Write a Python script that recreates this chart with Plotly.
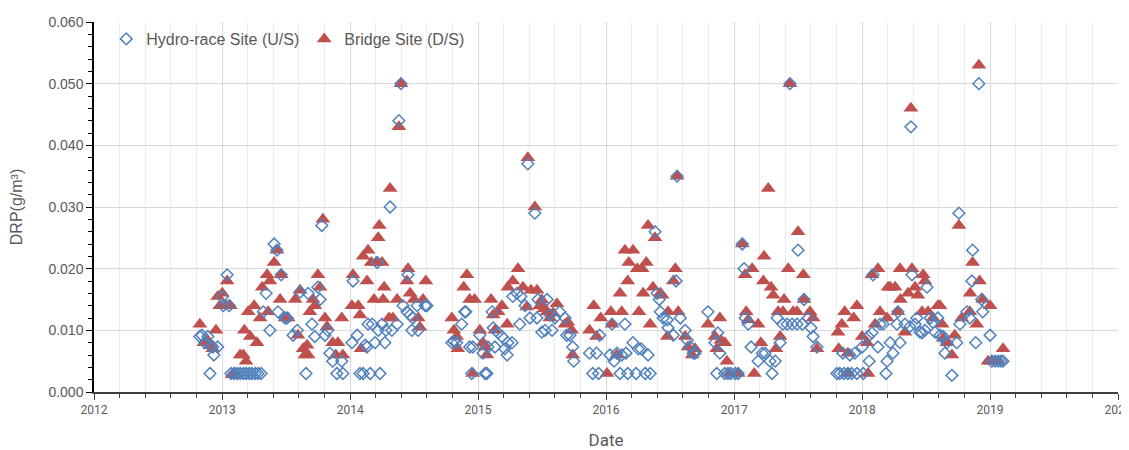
import plotly.graph_objects as go

# Hydro-race Site (U/S) - upstream
hydro_dates = [
    "2012-10-29", "2012-11-04", "2012-11-12", "2012-11-21", "2012-11-27", "2012-11-30", "2012-12-05", "2012-12-08", "2012-12-19",
    "2013-01-01", "2013-01-04", "2013-01-15", "2013-01-21", "2013-01-26", "2013-02-04", "2013-02-13", "2013-02-21", "2013-03-02",
    "2013-03-10", "2013-03-19", "2013-03-27", "2013-04-05", "2013-04-13", "2013-04-22", "2013-04-28", "2013-05-06", "2013-05-17",
    "2013-05-29", "2013-06-06", "2013-06-09", "2013-06-18", "2013-06-29", "2013-07-05", "2013-07-22", "2013-08-03", "2013-08-11",
    "2013-08-28", "2013-09-03", "2013-09-14", "2013-09-22", "2013-10-01", "2013-10-07", "2013-10-12", "2013-10-21", "2013-10-29",
    "2013-11-04", "2013-11-12", "2013-11-24", "2013-12-08", "2013-12-11",
    "2014-01-06", "2014-01-09", "2014-01-21", "2014-01-29", "2014-02-07", "2014-02-13", "2014-02-18", "2014-02-21", "2014-02-27",
    "2014-03-05", "2014-03-13", "2014-03-19", "2014-03-22", "2014-03-27", "2014-04-02", "2014-04-10", "2014-04-13", "2014-04-25",
    "2014-04-30", "2014-05-15", "2014-05-20", "2014-05-26", "2014-06-01", "2014-06-12", "2014-06-15", "2014-06-21", "2014-06-26",
    "2014-06-29", "2014-07-11", "2014-07-14", "2014-08-03", "2014-08-08",
    "2014-10-18", "2014-10-24", "2014-11-01", "2014-11-15", "2014-11-24", "2014-11-27", "2014-12-08", "2014-12-14", "2014-12-17",
    "2015-01-06", "2015-01-15", "2015-01-21", "2015-01-26", "2015-01-29", "2015-02-10", "2015-02-13", "2015-02-18", "2015-02-27",
    "2015-03-10", "2015-03-18", "2015-03-25", "2015-03-27", "2015-04-08", "2015-04-10", "2015-04-22", "2015-04-30", "2015-05-03",
    "2015-05-15", "2015-05-23", "2015-05-29", "2015-06-12", "2015-06-18", "2015-06-21", "2015-07-02", "2015-07-11", "2015-07-17",
    "2015-07-25", "2015-07-31", "2015-08-08", "2015-08-22", "2015-09-06", "2015-09-11", "2015-09-20", "2015-09-28", "2015-10-01",
    "2015-11-15", "2015-11-24", "2015-12-05", "2015-12-11", "2015-12-14",
    "2016-01-12", "2016-01-18", "2016-01-24", "2016-02-01", "2016-02-10", "2016-02-15", "2016-02-24", "2016-02-27", "2016-03-03",
    "2016-03-18", "2016-03-27", "2016-04-02", "2016-04-10", "2016-04-22", "2016-04-30", "2016-05-06", "2016-05-20", "2016-05-26",
    "2016-06-01", "2016-06-04", "2016-06-12", "2016-06-24", "2016-06-26", "2016-07-11", "2016-07-19", "2016-07-22", "2016-07-31",
    "2016-08-14", "2016-08-20", "2016-08-28", "2016-09-06", "2016-09-11", "2016-10-18", "2016-11-07", "2016-11-12", "2016-11-15",
    "2016-11-21", "2016-12-05", "2016-12-14", "2016-12-22",
    "2017-01-04", "2017-01-12", "2017-01-24", "2017-01-29", "2017-02-01", "2017-02-10", "2017-02-18", "2017-03-10", "2017-03-22",
    "2017-03-30", "2017-04-13", "2017-04-19", "2017-04-28", "2017-05-03", "2017-05-12", "2017-05-20", "2017-06-01", "2017-06-09",
    "2017-06-15", "2017-06-29", "2017-07-02", "2017-07-14", "2017-07-19", "2017-07-31", "2017-08-08", "2017-08-14", "2017-08-25",
    "2017-10-21", "2017-10-29", "2017-11-07", "2017-11-10", "2017-11-21", "2017-11-27", "2017-12-02", "2017-12-11", "2017-12-17",
    "2018-01-01", "2018-01-04", "2018-01-18", "2018-01-21", "2018-01-29", "2018-02-01", "2018-02-15", "2018-02-21", "2018-03-02",
    "2018-03-10", "2018-03-13", "2018-03-22", "2018-03-30", "2018-04-10", "2018-04-13", "2018-04-19", "2018-05-03", "2018-05-17",
    "2018-05-20", "2018-05-23", "2018-06-01", "2018-06-06", "2018-06-15", "2018-06-21", "2018-06-29", "2018-07-05", "2018-07-14",
    "2018-07-22", "2018-07-28", "2018-08-05", "2018-08-11", "2018-08-20", "2018-08-25", "2018-08-31", "2018-09-14", "2018-09-28",
    "2018-10-04", "2018-10-07", "2018-10-27", "2018-11-04", "2018-11-10", "2018-11-12", "2018-11-21", "2018-11-30", "2018-12-08",
    "2018-12-11",
    "2019-01-01", "2019-01-06", "2019-01-15", "2019-01-24", "2019-02-01", "2019-02-07",
]
hydro_drp = [
    0.009, 0.0092, 0.008, 0.009, 0.003, 0.0075, 0.0073, 0.006, 0.0073,
    0.0154, 0.014, 0.019, 0.014, 0.003, 0.003, 0.003, 0.003, 0.003,
    0.003, 0.003, 0.003, 0.003, 0.003, 0.003, 0.013, 0.016, 0.010,
    0.024, 0.023, 0.013, 0.019, 0.012, 0.012, 0.0092, 0.010, 0.0162,
    0.003, 0.016, 0.011, 0.009, 0.017, 0.015, 0.027, 0.0092, 0.010,
    0.0063, 0.005, 0.003, 0.005, 0.003,
    0.008, 0.018, 0.0092, 0.003, 0.003, 0.0076, 0.0073, 0.011, 0.003,
    0.011, 0.008, 0.021, 0.010, 0.003, 0.011, 0.008, 0.010, 0.030,
    0.010, 0.011, 0.044, 0.050, 0.014, 0.013, 0.019, 0.0125, 0.010,
    0.012, 0.014, 0.010, 0.014, 0.014,
    0.008, 0.0082, 0.008, 0.011, 0.013, 0.013, 0.0073, 0.003, 0.0073,
    0.0092, 0.0063, 0.003, 0.003, 0.0073, 0.013, 0.0104, 0.0073, 0.0096,
    0.009, 0.007, 0.006, 0.008, 0.008, 0.0155, 0.016, 0.011, 0.0155,
    0.014, 0.037, 0.012, 0.029, 0.012, 0.015, 0.0097, 0.010, 0.015,
    0.0125, 0.010, 0.012, 0.013, 0.012, 0.0092, 0.0092, 0.0073, 0.005,
    0.0063, 0.003, 0.0063, 0.003, 0.0092,
    0.006, 0.011, 0.005, 0.0063, 0.003, 0.006, 0.011, 0.0063, 0.003,
    0.008, 0.003, 0.007, 0.007, 0.003, 0.006, 0.003, 0.026, 0.016,
    0.015, 0.013, 0.012, 0.0117, 0.0104, 0.0092, 0.018, 0.035, 0.012,
    0.010, 0.0084, 0.0073, 0.0063, 0.0063, 0.013, 0.008, 0.003, 0.0096,
    0.0063, 0.003, 0.003, 0.003,
    0.003, 0.003, 0.024, 0.020, 0.012, 0.011, 0.0073, 0.005, 0.0063,
    0.0063, 0.005, 0.003, 0.005, 0.012, 0.008, 0.011, 0.011, 0.050,
    0.011, 0.011, 0.023, 0.011, 0.015, 0.012, 0.0104, 0.009, 0.0073,
    0.003, 0.003, 0.0063, 0.003, 0.003, 0.006, 0.003, 0.0063, 0.003,
    0.0073, 0.003, 0.009, 0.005, 0.0096, 0.019, 0.0073, 0.011, 0.011,
    0.003, 0.005, 0.008, 0.0063, 0.011, 0.013, 0.008, 0.011, 0.0106,
    0.043, 0.019, 0.011, 0.012, 0.0097, 0.0096, 0.010, 0.017, 0.012,
    0.0113, 0.0097, 0.012, 0.0092, 0.009, 0.0063, 0.008, 0.0027, 0.008,
    0.029, 0.011, 0.013, 0.012, 0.018, 0.023, 0.008, 0.050, 0.015,
    0.013,
    0.0092, 0.005, 0.005, 0.005, 0.005, 0.005,
]

# Bridge Site (D/S) - downstream
bridge_dates = [
    "2012-10-29", "2012-11-10", "2012-11-18", "2012-11-27", "2012-12-05", "2012-12-14", "2012-12-19", "2012-12-25",
    "2013-01-01", "2013-01-12", "2013-01-15", "2013-01-24", "2013-01-29", "2013-02-07", "2013-02-21", "2013-03-02", "2013-03-05",
    "2013-03-10", "2013-03-16", "2013-03-22", "2013-04-02", "2013-04-10", "2013-04-19", "2013-04-25", "2013-05-09", "2013-05-12",
    "2013-05-17", "2013-05-29", "2013-06-06", "2013-06-15", "2013-06-18", "2013-06-29", "2013-07-08", "2013-07-28", "2013-08-05",
    "2013-08-11", "2013-08-20", "2013-08-25", "2013-08-31", "2013-09-03", "2013-09-08", "2013-09-17", "2013-09-22", "2013-10-01",
    "2013-10-07", "2013-10-15", "2013-10-21", "2013-10-27", "2013-11-12", "2013-11-21", "2013-11-27", "2013-12-08", "2013-12-11",
    "2014-01-06", "2014-01-09", "2014-01-24", "2014-01-29", "2014-02-01", "2014-02-07", "2014-02-18", "2014-02-21", "2014-03-02",
    "2014-03-10", "2014-03-16", "2014-03-22", "2014-03-25", "2014-04-02", "2014-04-05", "2014-04-08", "2014-04-22", "2014-04-25",
    "2014-05-03", "2014-05-15", "2014-05-20", "2014-05-26", "2014-06-12", "2014-06-15", "2014-06-21", "2014-07-02", "2014-07-14",
    "2014-07-19", "2014-07-28", "2014-08-05",
    "2014-10-18", "2014-10-24", "2014-11-01", "2014-11-04", "2014-11-21", "2014-11-30", "2014-12-08", "2014-12-17", "2014-12-22",
    "2015-01-06", "2015-01-15", "2015-01-21", "2015-01-26", "2015-02-07", "2015-02-13", "2015-02-18", "2015-02-27", "2015-03-10",
    "2015-03-25", "2015-03-27", "2015-04-10", "2015-04-25", "2015-05-09", "2015-05-20", "2015-05-23", "2015-06-01", "2015-06-12",
    "2015-06-18", "2015-06-26", "2015-07-02", "2015-07-08", "2015-07-17", "2015-07-25", "2015-08-03", "2015-08-14", "2015-09-06",
    "2015-09-14", "2015-09-25", "2015-09-28", "2015-11-15", "2015-11-27", "2015-12-05", "2015-12-17",
    "2016-01-04", "2016-01-15", "2016-01-18", "2016-02-01", "2016-02-10", "2016-02-15", "2016-02-24", "2016-03-03", "2016-03-06",
    "2016-03-18", "2016-03-30", "2016-04-04", "2016-04-13", "2016-04-16", "2016-04-25", "2016-04-30", "2016-05-06", "2016-05-14",
    "2016-05-20", "2016-06-04", "2016-06-09", "2016-06-24", "2016-06-26", "2016-07-11", "2016-07-17", "2016-07-22", "2016-07-25",
    "2016-08-14", "2016-08-22", "2016-09-03", "2016-09-11", "2016-10-18", "2016-11-07", "2016-11-12", "2016-11-21", "2016-11-24",
    "2016-12-05", "2016-12-11", "2016-12-17",
    "2017-01-12", "2017-01-24", "2017-02-01", "2017-02-04", "2017-02-10", "2017-02-21", "2017-02-27", "2017-03-10", "2017-03-18",
    "2017-03-25", "2017-03-27", "2017-04-08", "2017-04-16", "2017-04-22", "2017-04-30", "2017-05-06", "2017-05-12", "2017-05-20",
    "2017-05-23", "2017-06-04", "2017-06-09", "2017-06-18", "2017-06-29", "2017-07-02", "2017-07-17", "2017-07-19", "2017-08-05",
    "2017-08-14", "2017-08-25", "2017-10-24", "2017-10-26", "2017-11-04", "2017-11-12", "2017-11-21", "2017-11-22", "2017-12-08",
    "2017-12-17",
    "2018-01-01", "2018-01-15", "2018-01-18", "2018-01-29", "2018-02-07", "2018-02-15", "2018-02-21", "2018-03-13", "2018-03-16",
    "2018-03-22", "2018-04-05", "2018-04-13", "2018-04-19", "2018-04-20", "2018-05-03", "2018-05-12", "2018-05-20", "2018-05-23",
    "2018-06-01", "2018-06-09", "2018-06-21", "2018-06-24", "2018-06-29", "2018-07-08", "2018-07-22", "2018-08-05", "2018-08-11",
    "2018-08-17", "2018-08-20", "2018-08-31", "2018-09-14", "2018-09-22", "2018-10-04", "2018-10-12", "2018-11-04", "2018-11-05",
    "2018-11-12", "2018-11-24", "2018-11-30", "2018-12-02", "2018-12-11", "2018-12-26",
    "2019-01-01", "2019-01-06", "2019-01-15", "2019-01-24", "2019-02-07",
]
bridge_drp = [
    0.011, 0.008, 0.0085, 0.0075, 0.007, 0.010, 0.0155, 0.014,
    0.016, 0.014, 0.018, 0.014, 0.0028, 0.003, 0.006, 0.006, 0.010,
    0.005, 0.013, 0.009, 0.014, 0.008, 0.012, 0.017, 0.019, 0.013,
    0.018, 0.021, 0.023, 0.015, 0.019, 0.012, 0.012, 0.015, 0.0092,
    0.0165, 0.007, 0.006, 0.0076, 0.006, 0.013, 0.015, 0.014, 0.019,
    0.017, 0.028, 0.012, 0.0106, 0.008, 0.006, 0.008, 0.012, 0.006,
    0.014, 0.019, 0.014, 0.0125, 0.007, 0.022, 0.018, 0.023, 0.021,
    0.015, 0.021, 0.025, 0.027, 0.021, 0.015, 0.017, 0.012, 0.033,
    0.012, 0.015, 0.043, 0.050, 0.018, 0.020, 0.016, 0.015, 0.012,
    0.0105, 0.015, 0.018,
    0.012, 0.010, 0.009, 0.007, 0.017, 0.019, 0.015, 0.003, 0.015,
    0.010, 0.008, 0.0073, 0.006, 0.015, 0.0125, 0.010, 0.013, 0.014,
    0.011, 0.017, 0.018, 0.020, 0.017, 0.0138, 0.038, 0.0165, 0.030,
    0.0165, 0.014, 0.0149, 0.0135, 0.013, 0.012, 0.0128, 0.0143, 0.011,
    0.0113, 0.010, 0.006, 0.010, 0.014, 0.009, 0.012,
    0.003, 0.013, 0.011, 0.006, 0.016, 0.013, 0.023, 0.018, 0.021,
    0.023, 0.020, 0.013, 0.020, 0.016, 0.021, 0.027, 0.011, 0.017,
    0.025, 0.016, 0.0157, 0.009, 0.013, 0.018, 0.020, 0.035, 0.013,
    0.009, 0.0073, 0.006, 0.007, 0.011, 0.009, 0.007, 0.012, 0.0084,
    0.008, 0.005, 0.003,
    0.003, 0.024, 0.019, 0.013, 0.0117, 0.020, 0.003, 0.011, 0.008,
    0.018, 0.022, 0.033, 0.017, 0.0157, 0.007, 0.013, 0.009, 0.013,
    0.015, 0.020, 0.050, 0.013, 0.013, 0.026, 0.019, 0.015, 0.013,
    0.012, 0.007, 0.0097, 0.007, 0.011, 0.013, 0.0063, 0.003, 0.012,
    0.014,
    0.009, 0.008, 0.003, 0.019, 0.011, 0.020, 0.013, 0.012, 0.017,
    0.017, 0.017, 0.013, 0.020, 0.015, 0.0097, 0.016, 0.046, 0.020,
    0.017, 0.0157, 0.013, 0.019, 0.018, 0.013, 0.012, 0.014, 0.014,
    0.011, 0.0087, 0.008, 0.006, 0.0092, 0.027, 0.012, 0.013, 0.016,
    0.021, 0.011, 0.053, 0.018, 0.015, 0.005,
    0.014, 0.005, 0.005, 0.005, 0.007,
]

grey_text = "#595959"
narrow = "Liberation Sans Narrow, Arial Narrow, Roboto, sans-serif"
year_ms = 365.25 * 24 * 3600 * 1000

fig = go.Figure()

fig.add_trace(go.Scatter(
    x=bridge_dates, y=bridge_drp, mode="markers", name="Bridge Site (D/S)",
    marker=dict(symbol="triangle-up", size=13, color="#c0504d"),
))
fig.add_trace(go.Scatter(
    x=hydro_dates, y=hydro_drp, mode="markers", name="Hydro-race Site (U/S)",
    marker=dict(symbol="diamond-open", size=9, color="#4f81bd",
                line=dict(width=1.5, color="#4f81bd")),
))

fig.update_layout(
    width=1129, height=442,
    margin=dict(l=86, r=19, t=14, b=58),
    plot_bgcolor="white", paper_bgcolor="white",
    font=dict(family="Liberation Sans, Arial, sans-serif", color=grey_text),
    legend=dict(
        orientation="h", traceorder="reversed",
        x=0.012, y=1.0, xanchor="left", yanchor="top",
        bgcolor="rgba(0,0,0,0)", font=dict(size=16, color=grey_text),
        itemwidth=30,
    ),
    showlegend=True,
)

fig.update_xaxes(
    type="date", range=["2012-01-01", "2020-01-01"], automargin=False,
    tick0="2012-01-01", dtick="M12", tickformat="%Y",
    ticks="outside", ticklen=6, tickcolor="#404040",
    tickfont=dict(family=narrow, size=12, color=grey_text),
    showline=True, linecolor="#404040", linewidth=2,
    showgrid=True, gridcolor="#d9d9d9", gridwidth=1,
    minor=dict(tick0="2012-01-01", dtick=year_ms / 5, ticks="outside", ticklen=4,
               tickcolor="#404040", showgrid=True, gridcolor="#ececec", gridwidth=1),
    title=dict(text="Date", font=dict(family=narrow, size=17, color=grey_text), standoff=24),
    zeroline=False,
)

fig.update_yaxes(
    range=[0, 0.060], dtick=0.01, tickformat=".3f", automargin=False,
    ticks="outside", ticklen=6, tickcolor="black",
    tickfont=dict(size=14, color=grey_text),
    showline=True, linecolor="black", linewidth=1.5,
    showgrid=True, gridcolor="#d9d9d9", gridwidth=1,
    minor=dict(dtick=0.002, ticks="outside", ticklen=4, tickcolor="black", showgrid=False),
    title=dict(text="DRP(g/m³)", font=dict(size=16, color=grey_text), standoff=22),
    zeroline=False,
)

fig.write_html("out.html")
